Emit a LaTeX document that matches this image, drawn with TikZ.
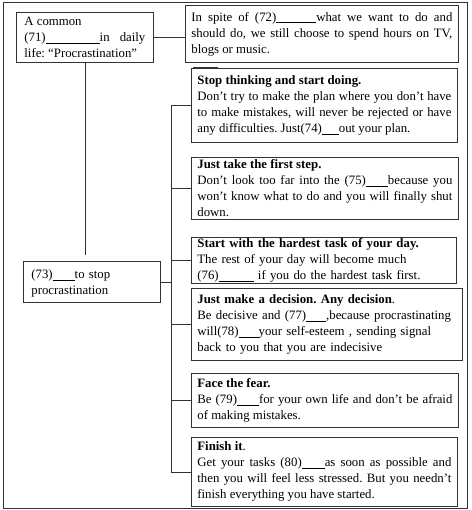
\documentclass[tikz,border=0pt]{standalone}
\usepackage{fontspec}
\setmainfont{Liberation Serif}
\hyphenpenalty=10000
\frenchspacing
\newcommand{\blank}[1]{\underline{\hspace{#1}}}
\tikzset{
  card/.style={draw=black!80, line width=0.8pt, anchor=north west, inner xsep=6pt, inner ysep=2pt,
    align=justify, font=\fontsize{12.8}{16}\selectfont},
  link/.style={draw=black!80, line width=0.8pt}
}
\begin{document}
\begin{tikzpicture}[x=1pt,y=-1pt]
\useasboundingbox (0,0) rectangle (471,510);
\draw[link] (3,2) rectangle (467,508);

% left column
\node[card, text width=121pt, minimum height=50pt, inner xsep=8pt] (A) at (16,12)
  {A common\\ (71)\blank{54pt}in\hfill daily\\ life: “Procrastination”};
\node[card, align=left, text width=121pt, minimum height=41pt, inner xsep=8pt, text depth=16pt] (m) at (23,261)
  {(73)\blank{22pt}to stop\\ procrastination};

% right column
\node[card, text width=261pt, minimum height=57pt] (B) at (185,5)
  {In spite of (72)\blank{40pt}what we want to do and\linebreak should do, we still choose to spend hours on TV,\linebreak blogs or music.};
\node[card, text width=254pt, minimum height=74pt] (s1) at (191,68)
  {\textbf{Stop thinking and start doing.}\\ Don't try to make the plan where you don't have\linebreak to make mistakes, will never be rejected or have\linebreak any difficulties. Just(74)\blank{17pt}out your plan.};
\node[card, text width=255pt, minimum height=62pt] (s2) at (191,157)
  {\textbf{Just take the first step.}\\ Don't look too far into the (75)\blank{22pt}because you\linebreak won't know what to do and you will finally shut\linebreak down.};
\node[card, align=left, text width=253pt, minimum height=41pt, inner ysep=1pt] (s3) at (191,237)
  {\textbf{Start with the hardest task of your day.}\\ The rest of your day will become much\\ (76)\blank{35pt} if you do the hardest task first.};
\node[card, align=left, text width=259pt, minimum height=72pt] (s4) at (191,288)
  {\textbf{Just make a decision. Any decision}.\\ Be decisive and (77)\blank{20pt},because procrastinating\\ will(78)\blank{20pt}your self-esteem , sending signal\\ back to you that you are indecisive};
\node[card, text width=255pt, minimum height=54pt] (s5) at (191,373)
  {\textbf{Face the fear.}\\ Be (79)\blank{22pt}for your own life and don't be afraid\linebreak of making mistakes.};
\node[card, text width=254pt, minimum height=69pt] (s6) at (191,437)
  {\textbf{Finish it}.\\ Get your tasks (80)\blank{23pt}as soon as possible and\linebreak then you will feel less stressed. But you needn't\linebreak finish everything you have started.};

% connectors
\coordinate (bus) at (171,0);
\draw[link] (A.east) -- (A.east -| B.west);
\draw[link] (A.south) -- ++(0,192);
\draw[link] (m.east) -- (m.east -| bus);
\draw[link] (s1.west) -- (s1.west -| bus) -- (s6.west -| bus) -- (s6.west);
\foreach \s in {s2,s3,s4,s5}
  \draw[link] (\s.west) -- (\s.west -| bus);
\draw[black!80, line width=1.6pt] (193,68) -- (218,68);
\end{tikzpicture}
\end{document}
